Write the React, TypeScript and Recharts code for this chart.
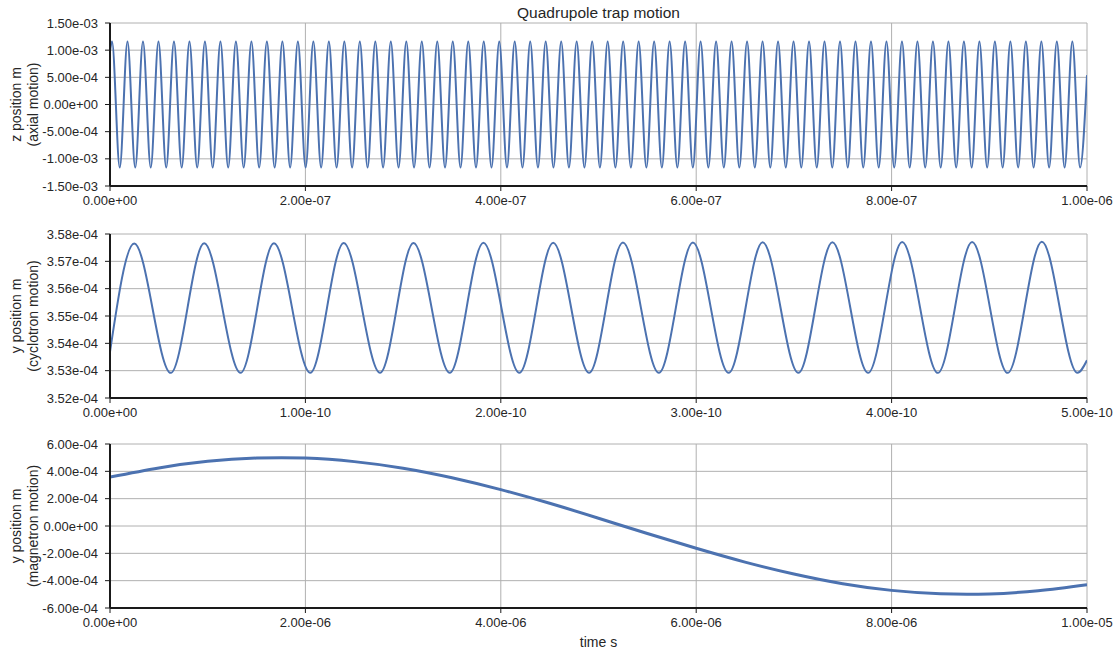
import React from 'react';
import { LineChart, Line, XAxis, YAxis, CartesianGrid } from 'recharts';

// ---------- Panel 1: axial motion (time in ns, position in mm) ----------
const axialPeakTimesNs = [
  2.05, 17.9, 33.76, 49.61, 65.47, 81.32, 97.17, 113.03, 128.88, 144.74, 160.59, 176.44, 192.3, 208.15,
  224.01, 239.86, 255.71, 271.57, 287.42, 303.28, 319.13, 334.98, 350.84, 366.69, 382.55, 398.4, 414.25,
  430.11, 445.96, 461.82, 477.67, 493.52, 509.38, 525.23, 541.09, 556.94, 572.79, 588.65, 604.5, 620.36,
  636.21, 652.06, 667.92, 683.77, 699.63, 715.48, 731.33, 747.19, 763.04, 778.9, 794.75, 810.6, 826.46,
  842.31, 858.17, 874.02, 889.87, 905.73, 921.58, 937.44, 953.29, 969.14, 985.0,
];
const axialTroughTimesNs = [
  9.98, 25.83, 41.69, 57.54, 73.39, 89.25, 105.1, 120.96, 136.81, 152.66, 168.52, 184.37, 200.23, 216.08,
  231.93, 247.79, 263.64, 279.5, 295.35, 311.2, 327.06, 342.91, 358.77, 374.62, 390.47, 406.33, 422.18,
  438.04, 453.89, 469.74, 485.6, 501.45, 517.31, 533.16, 549.01, 564.87, 580.72, 596.58, 612.43, 628.28,
  644.14, 659.99, 675.85, 691.7, 707.55, 723.41, 739.26, 755.12, 770.97, 786.82, 802.68, 818.53, 834.39,
  850.24, 866.09, 881.95, 897.8, 913.66, 929.51, 945.36, 961.22, 977.07, 992.93,
];
const axialPeakMm = 1.16;
const axialTroughMm = -1.16;
const axialEndsNs = [0, 1000];
const axialEndsMm = [0.98, 0.54];
const axialXTicks = [0, 2e-7, 4e-7, 6e-7, 8e-7, 1e-6];
const axialYTicks = [-1.5e-3, -1e-3, -5e-4, 0, 5e-4, 1e-3, 1.5e-3];

// ---------- Panel 2: cyclotron motion (time in 1e-10 s, position in 1e-4 m) ----------
const cycPeakT = [0.124, 0.482, 0.839, 1.196, 1.553, 1.911, 2.268, 2.625, 2.983, 3.34, 3.697, 4.054, 4.412, 4.769];
const cycPeakV = [3.5765, 3.5766, 3.5766, 3.5767, 3.5767, 3.5768, 3.5768, 3.5769, 3.5769, 3.577, 3.577, 3.5771, 3.5771, 3.5772];
const cycTroughT = [0.311, 0.668, 1.025, 1.382, 1.739, 2.095, 2.452, 2.809, 3.166, 3.523, 3.88, 4.237, 4.594, 4.951];
const cycTroughV = [3.5292, 3.5292, 3.5292, 3.5292, 3.5292, 3.5292, 3.5292, 3.5292, 3.5292, 3.5292, 3.5292, 3.5292, 3.5292, 3.5292];
const cycEndsT = [0, 5.0];
const cycEndsV = [3.5369, 3.5338];
const cycXTicks = [0, 1e-10, 2e-10, 3e-10, 4e-10, 5e-10];
const cycYTicks = [3.52e-4, 3.53e-4, 3.54e-4, 3.55e-4, 3.56e-4, 3.57e-4, 3.58e-4];

// ---------- Panel 3: magnetron motion (time in 1e-6 s, position in 1e-4 m) ----------
const magT = [0, 0.5, 1, 1.5, 2, 2.5, 3, 3.5, 4, 4.5, 5, 5.5, 6, 6.5, 7, 7.5, 8, 8.5, 9, 9.5, 10];
const magV = [3.58, 4.25, 4.73, 4.97, 4.97, 4.71, 4.23, 3.53, 2.66, 1.66, 0.57, -0.55, -1.63, -2.64, -3.51, -4.22, -4.71, -4.96, -4.97, -4.73, -4.29];
const magXTicks = [0, 2e-6, 4e-6, 6e-6, 8e-6, 1e-5];
const magYTicks = [-6e-4, -4e-4, -2e-4, 0, 2e-4, 4e-4, 6e-4];

const TITLE = 'Quadrupole trap motion';
const X_LABEL = 'time s';
const axialLabel = ['z position m', '(axial motion)'];
const cycLabel = ['y position m', '(cyclotron motion)'];
const magLabel = ['y position m', '(magnetron motion)'];

// ---------- build tables ----------
type Pt = { t: number; v: number };
function merge(times: number[][], vals: number[][], ts: number, vs: number): Pt[] {
  const out: Pt[] = [];
  times.forEach((arr, i) => arr.forEach((t, j) => out.push({ t: t * ts, v: vals[i][j] * vs })));
  out.sort((a, b) => a.t - b.t);
  return out;
}
const axialData = merge(
  [axialPeakTimesNs, axialTroughTimesNs, axialEndsNs],
  [axialPeakTimesNs.map(() => axialPeakMm), axialTroughTimesNs.map(() => axialTroughMm), axialEndsMm],
  1e-9,
  1e-3
);
const cycData = merge([cycPeakT, cycTroughT, cycEndsT], [cycPeakV, cycTroughV, cycEndsV], 1e-10, 1e-4);
const magData = merge([magT], [magV], 1e-6, 1e-4);

const fmtSci = (v: number): string => {
  const [m, e] = v.toExponential(2).split('e');
  const n = parseInt(e, 10);
  return `${m}e${n < 0 ? '-' : '+'}${String(Math.abs(n)).padStart(2, '0')}`;
};

const TEXT = '#262626';
const SPINE = { stroke: '#1a1a1a', strokeWidth: 2 };
const TICKLINE = { stroke: '#1a1a1a', strokeWidth: 1 };
const TICKFONT = { fontSize: 13, fill: TEXT };
const LINE_COLOR = '#4C72B0';
const W = 1118;
const PLOT_LEFT = 110;
const PLOT_RIGHT_GAP = 31;
const YAXIS_W = 100;
const XAXIS_H = 25;

const makeYLabel = (lines: string[]) => (props: any) => {
  const vb = props && props.viewBox ? props.viewBox : { y: 0, height: 0 };
  const cy = vb.y + vb.height / 2;
  const xs = [21, 37.8];
  return (
    <g>
      {lines.map((l, i) => (
        <text
          key={i}
          x={xs[i]}
          y={cy}
          transform={`rotate(-90, ${xs[i]}, ${cy})`}
          textAnchor="middle"
          fontSize={14}
          fill={TEXT}
        >
          {l}
        </text>
      ))}
    </g>
  );
};

type PanelProps = {
  data: Pt[];
  xTicks: number[];
  yTicks: number[];
  label: string[];
  top: number;
  height: number;
  plotTop: number;
  plotHeight: number;
  strokeWidth: number;
  curve: 'monotone' | 'natural';
};

function Panel({ data, xTicks, yTicks, label, top, height, plotTop, plotHeight, strokeWidth, curve }: PanelProps) {
  const xDom: [number, number] = [xTicks[0], xTicks[xTicks.length - 1]];
  const yDom: [number, number] = [yTicks[0], yTicks[yTicks.length - 1]];
  const margin = {
    top: plotTop,
    right: PLOT_RIGHT_GAP,
    left: PLOT_LEFT - YAXIS_W,
    bottom: height - plotTop - plotHeight - XAXIS_H,
  };
  return (
    <div style={{ position: 'absolute', left: 0, top, width: W, height }}>
      <LineChart width={W} height={height} data={data} margin={margin}>
        <CartesianGrid stroke="#b0b0b0" strokeWidth={1} />
        <XAxis
          dataKey="t"
          type="number"
          domain={xDom}
          ticks={xTicks}
          interval={0}
          allowDataOverflow
          tickFormatter={fmtSci}
          height={XAXIS_H}
          tickSize={5}
          tickMargin={5}
          axisLine={SPINE}
          tickLine={TICKLINE}
          tick={TICKFONT}
        />
        <XAxis
          xAxisId="top"
          orientation="top"
          dataKey="t"
          type="number"
          domain={xDom}
          ticks={xTicks}
          interval={0}
          allowDataOverflow
          height={0}
          tickSize={5}
          axisLine={SPINE}
          tickLine={TICKLINE}
          tick={false}
        />
        <YAxis
          dataKey="v"
          type="number"
          domain={yDom}
          ticks={yTicks}
          interval={0}
          allowDataOverflow
          tickFormatter={fmtSci}
          width={YAXIS_W}
          tickSize={5}
          tickMargin={7}
          axisLine={SPINE}
          tickLine={TICKLINE}
          tick={TICKFONT}
          label={{ content: makeYLabel(label) }}
        />
        <YAxis
          yAxisId="right"
          orientation="right"
          dataKey="v"
          type="number"
          domain={yDom}
          ticks={yTicks}
          interval={0}
          allowDataOverflow
          width={0}
          tickSize={5}
          axisLine={SPINE}
          tickLine={TICKLINE}
          tick={false}
        />
        <Line
          dataKey="v"
          type={curve}
          stroke={LINE_COLOR}
          strokeWidth={strokeWidth}
          dot={false}
          activeDot={false}
          isAnimationActive={false}
        />
      </LineChart>
    </div>
  );
}

export default function App() {
  return (
    <div
      style={{
        position: 'absolute',
        left: 0,
        top: 0,
        width: W,
        height: 657,
        background: '#ffffff',
        fontFamily: '"Liberation Sans", Arial, sans-serif',
      }}
    >
      <Panel data={axialData} xTicks={axialXTicks} yTicks={axialYTicks} label={axialLabel}
        top={0} height={215} plotTop={23} plotHeight={163} strokeWidth={2} curve="monotone" />
      <Panel data={cycData} xTicks={cycXTicks} yTicks={cycYTicks} label={cycLabel}
        top={215} height={215} plotTop={19} plotHeight={164} strokeWidth={2} curve="monotone" />
      <Panel data={magData} xTicks={magXTicks} yTicks={magYTicks} label={magLabel}
        top={430} height={227} plotTop={14} plotHeight={164} strokeWidth={3} curve="natural" />
      <svg width={W} height={657} style={{ position: 'absolute', left: 0, top: 0, pointerEvents: 'none' }}>
        <text x={598.5} y={17.8} textAnchor="middle" fontSize={15.5} fill={TEXT}>{TITLE}</text>
        <text x={598.5} y={647} textAnchor="middle" fontSize={14} fill={TEXT}>{X_LABEL}</text>
      </svg>
    </div>
  );
}
